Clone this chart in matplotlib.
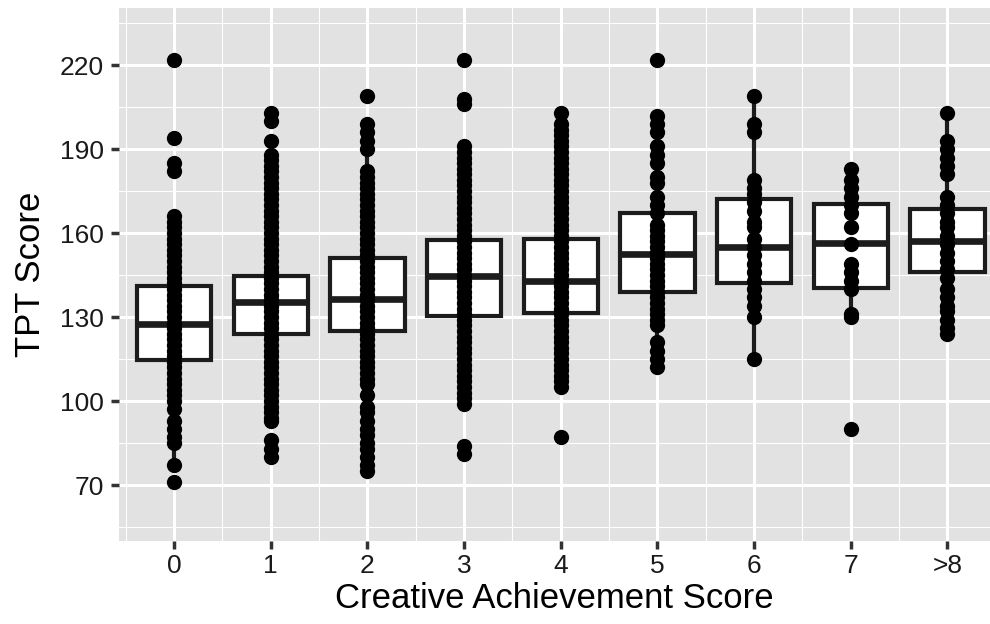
import matplotlib.pyplot as plt
from matplotlib.ticker import FixedLocator

plt.rcParams['font.family'] = ['Liberation Sans', 'DejaVu Sans']

# categories on the x axis
labels = ['0', '1', '2', '3', '4', '5', '6', '7', '>8']

# box statistics per category
q1 = [114.5, 124, 125, 130.5, 131.5, 139, 142, 140.5, 146]
med = [127.5, 135.5, 136.5, 144.5, 143, 152.5, 155, 156.5, 157]
q3 = [141, 144.5, 151, 157.5, 158, 167, 172, 170.5, 168.5]
whislo = [77, 93, 85, 99, 105, 112, 115, 130, 124]
whishi = [166, 175, 189, 191, 197, 202, 209, 183, 203]

# individual TPT scores per category
scores_0 = [222, 194, 185, 182, 166, 164, 162, 160, 158, 156, 154, 152, 150,
            148, 146, 144, 142, 140, 138, 136, 134, 132, 130, 128, 126, 124,
            122, 120, 118, 116, 114, 112, 110, 108, 106, 104, 102, 100, 97,
            93, 90, 87, 85, 77, 71]
scores_1 = [203, 200, 193, 188, 186, 184, 182, 180, 178, 176, 174, 172, 170,
            168, 166, 164, 162, 160, 158, 156, 154, 152, 150, 148, 146, 144,
            142, 140, 138, 136, 134, 132, 130, 128, 126, 124, 122, 120, 118,
            116, 114, 112, 110, 108, 106, 104, 102, 100, 98, 96, 94, 93, 86,
            83, 80]
scores_2 = [209, 199, 196, 193, 190, 182, 180, 178, 176, 174, 172, 170, 168,
            166, 164, 162, 160, 158, 156, 154, 152, 150, 148, 146, 144, 142,
            140, 138, 136, 134, 132, 130, 128, 126, 124, 122, 120, 118, 116,
            114, 112, 110, 108, 106, 102, 98, 96, 93, 90, 88, 85, 83, 80, 77,
            75]
scores_3 = [222, 208, 206, 191, 189, 187, 185, 183, 181, 179, 177, 175, 173,
            171, 169, 167, 165, 163, 161, 159, 157, 155, 153, 151, 149, 147,
            145, 143, 141, 139, 137, 135, 133, 131, 129, 127, 125, 123, 121,
            119, 117, 115, 113, 111, 109, 107, 105, 103, 101, 99, 84, 81]
scores_4 = [203, 199, 197, 195, 193, 191, 189, 187, 185, 183, 181, 179, 177,
            175, 173, 171, 169, 167, 165, 163, 161, 159, 157, 155, 153, 151,
            149, 147, 145, 143, 141, 139, 137, 135, 133, 131, 129, 127, 125,
            123, 121, 119, 117, 115, 113, 111, 109, 107, 105, 87]
scores_5 = [222, 202, 199, 196, 191, 188, 185, 180, 178, 173, 170, 167, 163,
            161, 159, 157, 155, 153, 151, 149, 147, 145, 143, 141, 139, 137,
            135, 133, 131, 129, 127, 121, 118, 115, 112]
scores_6 = [209, 199, 196, 179, 176, 174, 171, 168, 164, 162, 158, 155, 152,
            149, 146, 143, 140, 137, 134, 130, 115]
scores_7 = [183, 179, 176, 173, 170, 167, 162, 156, 149, 146, 143, 140, 131,
            130, 90]
scores_8 = [203, 193, 190, 187, 184, 181, 173, 170, 167, 164, 162, 159, 156,
            153, 150, 147, 144, 140, 137, 134, 132, 129, 126, 124]
scores = [scores_0, scores_1, scores_2, scores_3, scores_4, scores_5,
          scores_6, scores_7, scores_8]

fig = plt.figure(figsize=(9.9, 6.24), dpi=100)
ax = fig.add_axes([0.1202, 0.1330, 0.8798, 0.8537])
ax.set_facecolor('#e2e2e2')

# ggplot-like grid
ax.xaxis.set_minor_locator(FixedLocator([i - 0.5 for i in range(len(labels) + 1)]))
ax.yaxis.set_minor_locator(FixedLocator([55, 85, 115, 145, 175, 205, 235]))
ax.grid(which='major', color='white', linewidth=2.2)
ax.grid(which='minor', color='white', linewidth=0.8)
ax.set_axisbelow(True)
for s in ax.spines.values():
    s.set_visible(False)

stats = []
for i in range(len(labels)):
    stats.append(dict(med=med[i], q1=q1[i], q3=q3[i],
                      whislo=whislo[i], whishi=whishi[i], fliers=[]))

ax.bxp(stats, positions=range(len(labels)), widths=0.77, patch_artist=True,
       showcaps=False, showfliers=False,
       boxprops=dict(facecolor='white', edgecolor='#1c1c1c', linewidth=3),
       whiskerprops=dict(color='#1c1c1c', linewidth=3),
       medianprops=dict(color='#1c1c1c', linewidth=4.8, solid_capstyle='butt'))

for i, ys in enumerate(scores):
    ax.plot([i] * len(ys), ys, 'o', color='black', markersize=11,
            markeredgewidth=0, zorder=5)

ax.set_xlim(-0.57, 8.44)
ax.set_ylim(50, 240.3)
ax.set_xticks(range(len(labels)))
ax.set_xticklabels(labels)
ax.set_yticks([70, 100, 130, 160, 190, 220])

ax.tick_params(which='major', length=6, width=2.5, color='#333333',
               labelsize=19, labelcolor='#1a1a1a')
ax.tick_params(axis='y', pad=5)
ax.tick_params(axis='x', pad=3)
ax.tick_params(which='minor', length=0)

ax.set_xlabel('Creative Achievement Score', fontsize=25, labelpad=3)
ax.set_ylabel('TPT Score', fontsize=25, labelpad=9)

fig.savefig('out.png', dpi=100)
